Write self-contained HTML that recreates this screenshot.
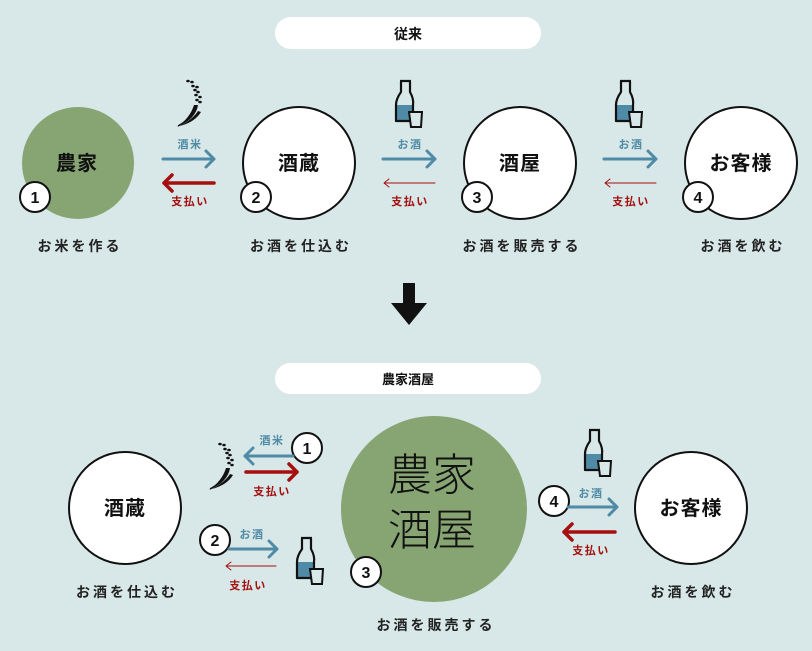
<!DOCTYPE html>
<html><head><meta charset="utf-8"><style>
html,body{margin:0;padding:0;background:#d8e7e7;}
svg{display:block;}
text{font-family:"Liberation Sans","Noto Sans CJK JP",sans-serif;}
</style></head><body>
<svg width="812" height="651" viewBox="0 0 812 651" xmlns="http://www.w3.org/2000/svg">
<defs>
<g id="bottle">
<path d="M16 30 L16 46 L31 46 L33 30 Z" fill="#4f8aa6"/>
<path d="M20 6 L31 6 M21 6 L21 17 Q16 24 16 30 L16 46 L31 46 M30 6 L30 17 Q34 24 33 30 L33 37" fill="none" stroke="#111" stroke-width="2.2" stroke-linejoin="round"/>
<path d="M29 37 L42 37 L41 52 L31 52 Z" fill="#d8e7e7" stroke="#111" stroke-width="2"/>
</g>
<g id="rice" fill="#111">
<ellipse cx="28" cy="6" rx="1.8" ry="1.3"/><ellipse cx="32" cy="7" rx="1.8" ry="1.3"/>
<ellipse cx="33" cy="11" rx="1.8" ry="1.3"/><ellipse cx="37" cy="12" rx="1.8" ry="1.3"/>
<ellipse cx="35" cy="15" rx="1.8" ry="1.3"/><ellipse cx="38" cy="17" rx="1.8" ry="1.3"/>
<ellipse cx="36" cy="20" rx="1.8" ry="1.3"/><ellipse cx="40" cy="22" rx="1.8" ry="1.3"/>
<ellipse cx="37" cy="25" rx="1.8" ry="1.3"/><ellipse cx="40" cy="27" rx="1.8" ry="1.3"/>
<path d="M38 30 Q36 44 17 52 Q30 43 34 30 Z"/>
<path d="M41 37 Q35 47 20 51 Q33 44 38 36 Z"/>
<path d="M32 38 Q28 46 18 51" fill="none" stroke="#111" stroke-width="1.5"/>
</g>
</defs>

<rect x="275" y="17" width="266" height="32" rx="16" fill="#fff"/>
<text x="408" y="39" font-size="14" font-weight="bold" text-anchor="middle" fill="#111">従来</text>
<rect x="275" y="363" width="266" height="31" rx="15.5" fill="#fff"/>
<text x="408" y="384" font-size="13" font-weight="bold" text-anchor="middle" fill="#111">農家酒屋</text>

<circle cx="78" cy="163" r="56" fill="#87a573"/>
<text x="77" y="170" font-size="20" font-weight="bold" text-anchor="middle" fill="#111" letter-spacing="1">農家</text>
<circle cx="299" cy="163" r="56" fill="#fff" stroke="#111" stroke-width="2"/>
<text x="299" y="170" font-size="20" font-weight="bold" text-anchor="middle" fill="#111" letter-spacing="1">酒蔵</text>
<circle cx="520" cy="163" r="56" fill="#fff" stroke="#111" stroke-width="2"/>
<text x="520" y="170" font-size="20" font-weight="bold" text-anchor="middle" fill="#111" letter-spacing="1">酒屋</text>
<circle cx="741" cy="163" r="56" fill="#fff" stroke="#111" stroke-width="2"/>
<text x="741" y="170" font-size="20" font-weight="bold" text-anchor="middle" fill="#111" letter-spacing="1">お客様</text>

<g stroke="#111" stroke-width="2" fill="#fff">
<circle cx="35" cy="197" r="15"/><circle cx="256" cy="197" r="15"/><circle cx="477" cy="197" r="15"/><circle cx="698" cy="197" r="15"/>
</g>
<g font-size="16" font-weight="bold" text-anchor="middle" fill="#111">
<text x="35" y="203">1</text><text x="256" y="203">2</text><text x="477" y="203">3</text><text x="698" y="203">4</text>
</g>
<g font-size="14" font-weight="bold" text-anchor="middle" fill="#222" letter-spacing="3">
<text x="80" y="251">お米を作る</text><text x="301" y="251">お酒を仕込む</text><text x="522" y="251">お酒を販売する</text><text x="743" y="251">お酒を飲む</text>
</g>

<g fill="none" stroke-linecap="round" stroke-linejoin="round">
<path d="M163 159 H214 M206 151 L214 159 L206 167" stroke="#4f8aa6" stroke-width="3"/>
<path d="M214 183 H164 M172 175 L164 183 L172 191" stroke="#a50f0f" stroke-width="3.5"/>
<path d="M383 159 H435 M427 151 L435 159 L427 167" stroke="#4f8aa6" stroke-width="3"/>
<path d="M435 183 H384 M389 179 L384 183 L389 187" stroke="#a50f0f" stroke-width="1"/>
<path d="M604 159 H656 M648 151 L656 159 L648 167" stroke="#4f8aa6" stroke-width="3"/>
<path d="M656 183 H605 M610 179 L605 183 L610 187" stroke="#a50f0f" stroke-width="1"/>
</g>
<g font-size="11" font-weight="bold" text-anchor="middle" letter-spacing="1.5">
<text x="190" y="148" fill="#4f8aa6">酒米</text><text x="190" y="205" fill="#a50f0f">支払い</text>
<text x="410" y="148" fill="#4f8aa6">お酒</text><text x="410" y="205" fill="#a50f0f">支払い</text>
<text x="631" y="148" fill="#4f8aa6">お酒</text><text x="631" y="205" fill="#a50f0f">支払い</text>
</g>
<use href="#rice" x="160" y="75"/>
<use href="#bottle" x="380" y="75"/>
<use href="#bottle" x="600" y="75"/>

<path d="M403 283 H415 V303 H427 L409 325 L391 303 H403 Z" fill="#111"/>

<circle cx="125" cy="508" r="56" fill="#fff" stroke="#111" stroke-width="2"/>
<text x="125" y="515" font-size="20" font-weight="bold" text-anchor="middle" fill="#111" letter-spacing="1">酒蔵</text>
<circle cx="434" cy="509" r="93" fill="#87a573"/>
<text x="432" y="490" font-size="44" font-weight="300" text-anchor="middle" fill="#111" font-family="'Noto Sans CJK JP',sans-serif">農家</text>
<text x="432" y="545" font-size="44" font-weight="300" text-anchor="middle" fill="#111" font-family="'Noto Sans CJK JP',sans-serif">酒屋</text>
<circle cx="691" cy="508" r="56" fill="#fff" stroke="#111" stroke-width="2"/>
<text x="691" y="515" font-size="20" font-weight="bold" text-anchor="middle" fill="#111" letter-spacing="1">お客様</text>

<g stroke="#111" stroke-width="2" fill="#fff">
<circle cx="307" cy="448" r="15"/><circle cx="215" cy="540" r="15"/><circle cx="366" cy="572" r="15"/><circle cx="554" cy="501" r="15"/>
</g>
<g font-size="16" font-weight="bold" text-anchor="middle" fill="#111">
<text x="307" y="454">1</text><text x="215" y="546">2</text><text x="366" y="578">3</text><text x="554" y="507">4</text>
</g>
<g font-size="14" font-weight="bold" text-anchor="middle" fill="#222" letter-spacing="3">
<text x="127" y="597">お酒を仕込む</text><text x="436" y="630">お酒を販売する</text><text x="693" y="597">お酒を飲む</text>
</g>
<g fill="none" stroke-linecap="round" stroke-linejoin="round">
<path d="M293 456 H245 M253 448 L245 456 L253 464" stroke="#4f8aa6" stroke-width="3"/>
<path d="M246 472 H297 M289 464 L297 472 L289 480" stroke="#a50f0f" stroke-width="3.5"/>
<path d="M229 549 H277 M269 541 L277 549 L269 557" stroke="#4f8aa6" stroke-width="3"/>
<path d="M276 566 H226 M231 562 L226 566 L231 570" stroke="#a50f0f" stroke-width="1"/>
<path d="M568 507 H617 M609 499 L617 507 L609 515" stroke="#4f8aa6" stroke-width="3"/>
<path d="M615 532 H564 M572 524 L564 532 L572 540" stroke="#a50f0f" stroke-width="3.5"/>
</g>
<g font-size="11" font-weight="bold" text-anchor="middle" letter-spacing="1.5">
<text x="272" y="444" fill="#4f8aa6">酒米</text><text x="272" y="495" fill="#a50f0f">支払い</text>
<text x="252" y="538" fill="#4f8aa6">お酒</text><text x="248" y="589" fill="#a50f0f">支払い</text>
<text x="591" y="497" fill="#4f8aa6">お酒</text><text x="591" y="554" fill="#a50f0f">支払い</text>
</g>
<use href="#rice" x="192" y="438"/>
<use href="#bottle" x="281" y="532"/>
<use href="#bottle" x="569" y="424"/>
</svg>
</body></html>
